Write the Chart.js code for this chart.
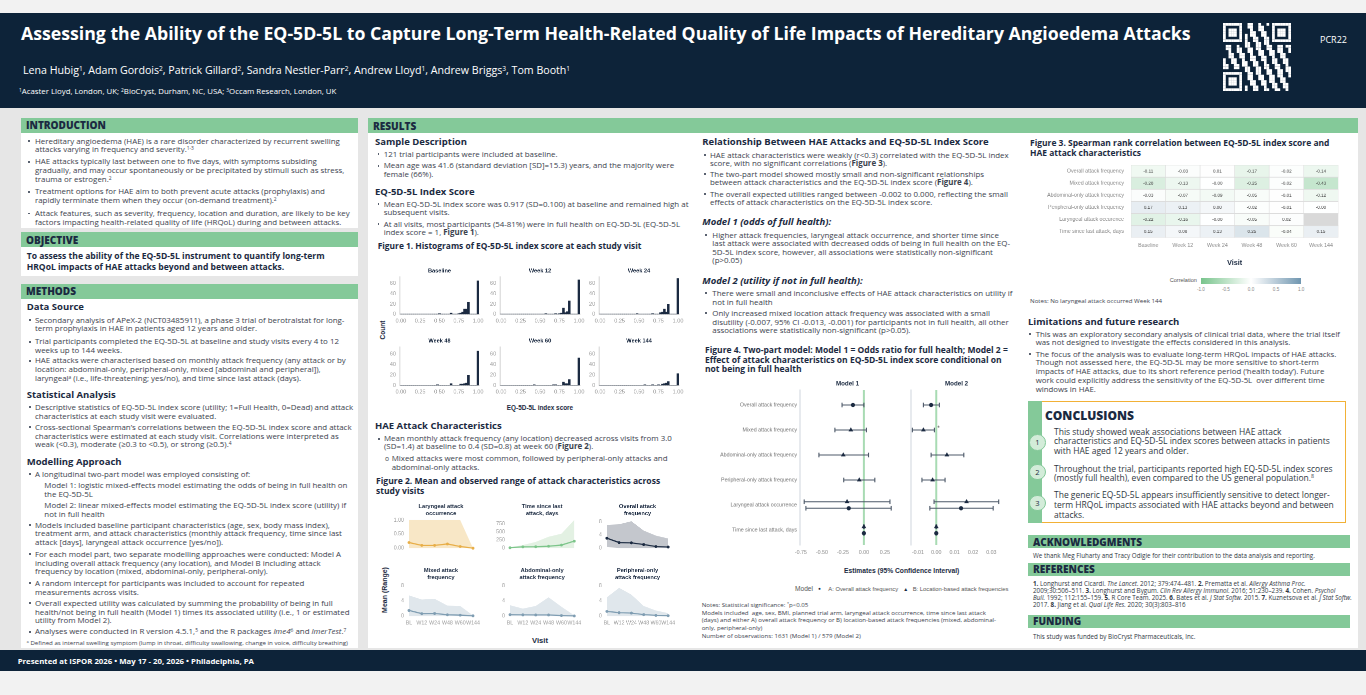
<!DOCTYPE html>
<html lang="en"><head><meta charset="utf-8"><title>EQ-5D-5L and HAE attacks poster</title>
<script src="https://cdn.jsdelivr.net/npm/chart.js@4.4.1/dist/chart.umd.min.js"></script>
<style>
html,body{margin:0;padding:0}
body{position:relative;width:1366px;height:695px;overflow:hidden;background:#e6e6e6;font-family:'Open Sans','Noto Sans',sans-serif;color:#3b424d}
.r{position:absolute}
.t{position:absolute;white-space:nowrap}
.b::before{content:'';position:absolute;left:0;top:calc(var(--lh) / 2 - 0.8px);width:1.7px;height:1.7px;background:#5a6270}
.o::before{content:'o';position:absolute;left:0;top:0;font-size:85%}
sup{font-size:62%;line-height:0;vertical-align:0.5em}
[data-g=title]{font-weight:700;color:#fff;font-size:19px}
[data-g=auth]{color:#fff;font-size:9px}
[data-g=aff]{color:#fff;font-size:6.5px}
[data-g=pcr]{color:#fff;font-size:9px}
[data-g=bar]{font-weight:800;color:#1b2a41;font-size:9.5px}
[data-g=sub]{font-weight:700;color:#1b2a41;font-size:8.8px}
[data-g=ital]{font-weight:700;font-style:italic;color:#1b2a41;font-size:9.3px}
[data-g=body],[data-g=bodyR]{font-size:6.9px}
[data-g=obj]{font-weight:700;color:#1b2a41;font-size:7.6px}
[data-g^=cap]{font-weight:700;color:#1b2a41;font-size:8px}
[data-g=fn]{font-size:5.4px}
[data-g=foot]{font-weight:700;color:#fff;font-size:8.5px}
[data-g=note4],[data-g=note3]{font-size:5.4px}
[data-g=concH]{font-weight:800;color:#1b2a41;font-size:11px}
[data-g=conc]{font-size:7.6px;color:#2f3742}
[data-g=ack],[data-g=ref]{font-size:5.3px;color:#2f3742}
[data-g=ax]{font-family:'Liberation Sans',Arial,sans-serif;font-weight:700;color:#1b2a41}
[data-g=leg]{font-family:'Liberation Sans',Arial,sans-serif;color:#555;font-size:5.2px}
.num{position:absolute;width:14.6px;height:14.6px;border-radius:50%;background:#d3ecd9;border:1.2px solid #84c999;color:#1b2a41;font-size:7.5px;line-height:14.6px;text-align:center}
</style>
</head>
<body>
<script>
// ================= DATA =================
// Figure 1: histogram of EQ-5D-5L index score, [bin centre, count]
const histVisits = ['Baseline','Week 12','Week 24','Week 48','Week 60','Week 144'];
const binWidth = 0.025;
const histBaseline = [[0.500,1],[0.650,2],[0.750,1],[0.775,2],[0.800,4],[0.825,10],[0.850,10],[0.875,23],[1.000,65]];
const histWeek12   = [[0.575,1],[0.700,1],[0.750,1],[0.775,2],[0.800,12],[0.825,3],[0.850,5],[0.875,26],[1.000,67]];
const histWeek24   = [[0.475,1],[0.675,1],[0.775,3],[0.800,4],[0.825,10],[0.850,4],[0.875,19],[1.000,70]];
const histWeek48   = [[0.475,1],[0.650,3],[0.775,2],[0.800,2],[0.825,3],[0.850,4],[0.875,19],[1.000,65]];
const histWeek60   = [[0.425,1],[0.675,1],[0.700,1],[0.800,6],[0.825,3],[0.850,3],[0.875,11],[1.000,52]];
const histWeek144  = [[0.575,1],[0.675,1],[0.750,1],[0.800,2],[0.825,3],[0.850,4],[0.875,7],[1.000,22]];
const histYTicks = [0,20,40,60];

// Figure 2: mean and observed range by visit
const visitsShort = ['BL','W12','W24','W48','W60','W144'];
const larMean = [0.20,0.10,0.10,0.15,0.06,0.00];
const larMin  = [0,0,0,0,0,0];
const larMax  = [1,1,1,1,1,0];
const timeMean = [15,40,45,60,95,215];
const timeMin  = [0,0,0,0,0,0];
const timeMax  = [25,95,190,350,440,860];
const overallMean = [3.0,1.7,1.6,1.1,0.5,0.35];
const overallMin  = [0.4,0,0,0,0,0];
const overallMax  = [7.0,7.2,8.1,5.3,3.8,2.9];
const mixedMean = [1.5,0.65,0.7,0.35,0.25,0.08];
const mixedMin  = [0,0,0,0,0,0];
const mixedMax  = [5.5,4.4,4.6,2.8,2.7,0.2];
const abdMean = [0.38,0.33,0.3,0.3,0.15,0.05];
const abdMin  = [0,0,0,0,0,0];
const abdMax  = [2.9,2.0,2.7,5.0,2.5,0.2];
const perMean = [1.25,0.9,0.8,0.4,0.2,0.12];
const perMin  = [0,0,0,0,0,0];
const perMax  = [5.0,7.5,5.7,2.7,1.5,0.8];

// Figure 3: Spearman correlations (null = not estimable)
const corrRows = ['Overall attack frequency','Mixed attack frequency','Abdominal-only attack frequency','Peripheral-only attack frequency','Laryngeal attack occurence','Time since last attack, days'];
const corrVisits = ['Baseline','Week 12','Week 24','Week 48','Week 60','Week 144'];
const corrOverall    = [-0.11,-0.03, 0.01,-0.17,-0.02,-0.14];
const corrMixed      = [-0.28,-0.13,-0.004,-0.25,-0.02,-0.43];
const corrAbdominal  = [-0.03,-0.07,-0.09,-0.05,-0.01,-0.12];
const corrPeripheral = [ 0.17, 0.13, 0.08,-0.02,-0.01,-0.004];
const corrLaryngeal  = [-0.22,-0.16,-0.004,-0.05, 0.02, null];
const corrTime       = [ 0.15, 0.08, 0.13, 0.25,-0.04, 0.15];
const colorbarTicks = [-1.0,-0.5,0.0,0.5,1.0];

// Figure 4: two-part model estimates (A = overall frequency model, B = location-based model)
const forestRows = ['Overall attack frequency','Mixed attack frequency','Abdominal-only attack frequency','Peripheral-only attack frequency','Laryngeal attack occurrence','Time since last attack, days'];
const m1EstA = [-0.13, null, null, null, -0.18, 0.000];
const m1LoA  = [-0.26, null, null, null, -0.69, -0.004];
const m1HiA  = [ 0.00, null, null, null, 0.325, 0.004];
const m1EstB = [null, -0.155, -0.245, -0.055, -0.20, 0.000];
const m1LoB  = [null, -0.345, -0.535, -0.24, -0.71, -0.004];
const m1HiB  = [null, 0.03, 0.055, 0.13, 0.31, 0.004];
const m1SigB = ['', '', '', '', '', ''];
const m2EstA = [-0.0028, null, null, null, 0.0135, 0.0000];
const m2LoA  = [-0.0070, null, null, null, -0.0035, -0.0002];
const m2HiA  = [ 0.0017, null, null, null, 0.0310, 0.0002];
const m2EstB = [null, -0.0070, 0.0058, -0.0020, 0.0165, 0.0000];
const m2LoB  = [null, -0.0130, -0.0028, -0.0078, -0.0012, -0.0002];
const m2HiB  = [null, -0.0010, 0.0150, 0.0048, 0.0340, 0.0002];
const m2SigB = ['', '*', '', '', '', ''];

// ================= LAYOUT HELPERS =================
const GREEN = '#84c999', NAVY = '#1b2a41';
function rect(l,t,w,h,bg,extra){const d=document.createElement('div');d.className='r';d.style.cssText+=`left:${l}px;top:${t}px;width:${w}px;height:${h}px;background:${bg};`+(extra||'');document.body.appendChild(d);return d;}
function T(x,yc,lh,g,html,o){o=o||{};const d=document.createElement('div');d.className='t '+(o.cls||'');d.dataset.g=g;
  d.style.left=x+'px';d.style.top=(yc-lh/2)+'px';d.style.lineHeight=lh+'px';
  if(o.ind){d.style.paddingLeft=o.ind+'px';d.classList.add(o.cls||'b');d.style.setProperty('--lh',lh+'px');}
  if(o.size)d.style.fontSize=o.size+'px';
  if(o.center)d.style.transform='translateX(-50%)';
  if(o.rot){d.style.transform='translate(-50%,-50%) rotate(-90deg)';d.style.top=yc+'px';}
  if(o.color)d.style.color=o.color;
  d.innerHTML=html;document.body.appendChild(d);return d;}
function B(xd,xt,yc,lh,g,html,cls){return T(xd,yc,lh,g,html,{ind:xt-xd,cls:cls});}

// background strips
rect(0,0,1366,13,'#f2f2f2');
rect(0,13,1366,95,'#0d2339');
rect(0,650,1366,21,'#0d2339');
rect(0,671,1366,24,'#f2f2f2');
// white panels
rect(21,118,337,110,'#fff');
rect(21,232,337,44,'#fff');
rect(21,283.5,337,364.5,'#fff');
rect(368,118,990,530,'#fff');
// green section bars
rect(21,118,337,14.5,GREEN);
rect(21,232,337,15,GREEN);
rect(21,283.5,337,15,GREEN);
rect(368,118,990,15,GREEN);
rect(1028,535,322,13.3,GREEN);
rect(1028,563,322,12.7,GREEN);
rect(1028,615,322,12.7,GREEN);

// header
T(21,33,24,'title','<span data-fw="1170">Assessing the Ability of the EQ-5D-5L to Capture Long-Term Health-Related Quality of Life Impacts of Hereditary Angioedema Attacks</span>');
T(23,70,12,'auth','<span data-fw="548">Lena Hubig<sup>1</sup>, Adam Gordois<sup>2</sup>, Patrick Gillard<sup>2</sup>, Sandra Nestler-Parr<sup>2</sup>, Andrew Lloyd<sup>1</sup>, Andrew Briggs<sup>3</sup>, Tom Booth<sup>1</sup></span>');
T(19,91,9,'aff','<span data-fw="318"><sup>1</sup>Acaster Lloyd, London, UK; <sup>2</sup>BioCryst, Durham, NC, USA; <sup>3</sup>Occam Research, London, UK</span>');
T(1320,40,12,'pcr','PCR22');

// left column
T(26,125.3,12,'bar','<span data-fw="80">INTRODUCTION</span>');
B(28,35,141,8.6,'body','<span data-fw="305">Hereditary angioedema (HAE) is a rare disorder characterized by recurrent swelling</span><br>attacks varying in frequency and severity.<sup>1-3</sup>');
B(28,35,161.7,8.6,'body','HAE attacks typically last between one to five days, with symptoms subsiding<br>gradually, and may occur spontaneously or be precipitated by stimuli such as stress,<br>trauma or estrogen.<sup>2</sup>');
B(28,35,191.7,8.6,'body','Treatment options for HAE aim to both prevent acute attacks (prophylaxis) and<br>rapidly terminate them when they occur (on-demand treatment).<sup>2</sup>');
B(28,35,213.3,8.6,'body','Attack features, such as severity, frequency, location and duration, are likely to be key<br>factors impacting health-related quality of life (HRQoL) during and between attacks.');
T(26,239.7,12,'bar','OBJECTIVE');
T(26.7,256.7,11.6,'obj','<span data-fw="298">To assess the ability of the EQ-5D-5L instrument to quantify long-term</span><br>HRQoL impacts of HAE attacks beyond and between attacks.');
T(26,291,12,'bar','METHODS');
T(26.7,306.7,11,'sub','Data Source');
B(29,35,320,8.6,'body','Secondary analysis of APeX-2 (NCT03485911), a phase 3 trial of berotralstat for long-<br>term prophylaxis in HAE in patients aged 12 years and older.');
B(29,35,341.7,8.6,'body','Trial participants completed the EQ-5D-5L at baseline and study visits every 4 to 12<br>weeks up to 144 weeks.');
B(29,35,360.7,8.8,'body','HAE attacks were characterised based on monthly attack frequency (any attack or by<br>location: abdominal-only, peripheral-only, mixed [abdominal and peripheral]),<br>laryngeal<sup>a</sup> (i.e., life-threatening; yes/no), and time since last attack (days).');
T(26.7,394,11,'sub','Statistical Analysis');
B(29,35,407.3,8.4,'body','Descriptive statistics of EQ-5D-5L index score (utility; 1=Full Health, 0=Dead) and attack<br>characteristics at each study visit were evaluated.');
B(29,35,427.3,8.5,'body','Cross-sectional Spearman\u2019s correlations between the EQ-5D-5L index score and attack<br>characteristics were estimated at each study visit. Correlations were interpreted as<br>weak (&lt;0.3), moderate (\u22650.3 to &lt;0.5), or strong (\u22650.5).<sup>4</sup>');
T(26.7,461,11,'sub','Modelling Approach');
B(29,35,474,8.6,'body','A longitudinal two-part model was employed consisting of:');
T(44.3,485,9,'body','Model 1: logistic mixed-effects model estimating the odds of being in full health on<br>the EQ-5D-5L');
T(44.3,505,9,'body','Model 2: linear mixed-effects model estimating the EQ-5D-5L index score (utility) if<br>not in full health');
B(29,35,525,8.85,'body','Models included baseline participant characteristics (age, sex, body mass index),<br>treatment arm, and attack characteristics (monthly attack frequency, time since last<br>attack [days], laryngeal attack occurrence [yes/no]).');
B(29,35,554.3,8.7,'body','For each model part, two separate modelling approaches were conducted: Model A<br>including overall attack frequency (any location), and Model B including attack<br>frequency by location (mixed, abdominal-only, peripheral-only).');
B(29,35,583.3,8.4,'body','A random intercept for participants was included to account for repeated<br>measurements across visits.');
B(29,35,603.3,8.7,'body','Overall expected utility was calculated by summing the probability of being in full<br>health/not being in full health (Model 1) times its associated utility (i.e., 1 or estimated<br>utility from Model 2).');
B(29,35,631.7,8.6,'body','Analyses were conducted in R version 4.5.1,<sup>5</sup> and the R packages <i>lme4</i><sup>6</sup> and <i>lmerTest</i>.<sup>7</sup>');
T(26.7,642.7,7,'fn','<span data-fw="321.6"><sup>a</sup> Defined as internal swelling symptom (lump in throat, difficulty swallowing, change in voice, difficulty breathing)</span>');
T(17.7,661,12,'foot','<span data-fw="236.6">Presented at ISPOR 2026 \u2022 May 17 - 20, 2026 \u2022 Philadelphia, PA</span>');

// results – middle left
T(373,125.8,12,'bar','RESULTS');
T(375,141,11,'sub','<span data-fw="92">Sample Description</span>');
B(377.7,383.7,154.3,8.5,'body','121 trial participants were included at baseline.');
B(377.7,383.7,165.7,8.6,'body','Mean age was 41.6 (standard deviation [SD]=15.3) years, and the majority were<br>female (66%).');
T(375,191,11,'sub','EQ-5D-5L Index Score');
B(377.7,383.7,204.3,8,'body','Mean EQ-5D-5L index score was 0.917 (SD=0.100) at baseline and remained high at<br>subsequent visits.');
B(377.7,383.7,224,8.3,'body','At all visits, most participants (54-81%) were in full health on EQ-5D-5L (EQ-5D-5L<br>index score = 1, <b>Figure 1</b>).');
T(377.7,246,10,'cap1','<span data-fw="264">Figure 1. Histograms of EQ-5D-5L index score at each study visit</span>');
T(375,425.7,11,'sub','HAE Attack Characteristics');
B(378.3,384,439,7.9,'body','Mean monthly attack frequency (any location) decreased across visits from 3.0<br>(SD=1.4) at baseline to 0.4 (SD=0.8) at week 60 (<b>Figure 2</b>).');
B(385,391.7,458.3,9,'body','Mixed attacks were most common, followed by peripheral-only attacks and<br>abdominal-only attacks.','o');
T(376,481,10,'cap2','<span data-fw="284.7">Figure 2. Mean and observed range of attack characteristics across</span><br>study visits');

// results – middle right
T(702.3,141.7,11,'sub','Relationship Between HAE Attacks and EQ-5D-5L Index Score');
B(704,710,155,8.4,'body','HAE attack characteristics were weakly (r&lt;0.3) correlated with the EQ-5D-5L index<br>score, with no significant correlations (<b>Figure 3</b>).');
B(704,710,174,8.7,'body','The two-part model showed mostly small and non-significant relationships<br>between attack characteristics and the EQ-5D-5L index score (<b>Figure 4</b>).');
B(704,710,194,8.7,'body','The overall expected utilities ranged between -0.002 to 0.000, reflecting the small<br>effects of attack characteristics on the EQ-5D-5L index score.');
T(702.3,221.7,12,'ital','<span data-fw="129">Model 1 (odds of full health):</span>');
B(705,712.3,235,8.55,'body','Higher attack frequencies, laryngeal attack occurrence, and shorter time since<br>last attack were associated with decreased odds of being in full health on the EQ-<br>5D-5L index score, however, all associations were statistically non-significant<br>(p&gt;0.05)');
T(702.3,280.7,12,'ital','Model 2 (utility if not in full health):');
B(705,712.3,293.3,8.4,'body','There were small and inconclusive effects of HAE attack characteristics on utility if<br>not in full health');
B(705,712.3,313.3,8.7,'body','Only increased mixed location attack frequency was associated with a small<br>disutility (-0.007, 95% CI -0.013, -0.001) for participants not in full health, all other<br>associations were statistically non-significant (p&gt;0.05).');
T(705,350,9.35,'cap4','<span data-fw="303">Figure 4. Two-part model: Model 1 = Odds ratio for full health; Model 2 =</span><br>Effect of attack characteristics on EQ-5D-5L index score conditional on<br>not being in full health');
T(901.7,570.7,9,'ax','Estimates (95% Confidence Interval)',{size:6.7,center:true});
T(795,589.3,8,'leg','Model',{size:6.6});
T(818.3,589.3,8,'leg','\u25CF',{size:4.6,color:NAVY});
T(828.3,589.3,8,'leg','A: Overall attack frequency');
T(903.3,589.3,8,'leg','\u25B2',{size:5,color:NAVY});
T(912.7,589.3,8,'leg','<span data-fw="95.6">B: Location-based attack frequencies</span>');
T(701.7,605,7.6,'note4','Notes: Statistical significance: <sup>*</sup>p&lt;0.05<br><span data-fw="284">Models included&nbsp; age, sex, BMI, planned trial arm, laryngeal attack occurrence, time since last attack</span><br>(days) and either A) overall attack frequency or B) location-based attack frequencies (mixed, abdominal-<br>only, peripheral-only)<br>Number of observations: 1631 (Model 1) / 579 (Model 2)');

// right column
T(1030,142.9,9.4,'cap3','<span data-fw="300">Figure 3. Spearman rank correlation between EQ-5D-5L index score and</span><br>HAE attack characteristics');
T(1030,300.7,7,'note3','<span data-fw="132">Notes: No laryngeal attack occurred Week 144</span>');
T(1028,321,11,'sub','Limitations and future research');
B(1029,1035.7,334,8.7,'bodyR','<span data-fw="304">This was an exploratory secondary analysis of clinical trial data, where the trial itself</span><br>was not designed to investigate the effects considered in this analysis.');
B(1029,1035.7,354,8.83,'bodyR','The focus of the analysis was to evaluate long-term HRQoL impacts of HAE attacks.<br>Though not assessed here, the EQ-5D-5L may be more sensitive to short-term<br>impacts of HAE attacks, due to its short reference period (\u2018health today\u2019). Future<br>work could explicitly address the sensitivity of the EQ-5D-5L&nbsp; over different time<br>windows in HAE.');
// conclusions box
rect(1028,400.7,14,122.6,GREEN);
rect(1042,400.7,302.5,120,'#fff','border:1.3px solid #f2b136;border-left:none;');
T(1045,416,14,'concH','<span data-fw="89">CONCLUSIONS</span>');
T(1054,431.7,9.3,'conc','This study showed weak associations between HAE attack<br><span data-fw="276">characteristics and EQ-5D-5L index scores between attacks in patients</span><br>with HAE aged 12 years and older.');
T(1054,468.3,9.4,'conc','Throughout the trial, participants reported high EQ-5D-5L index scores<br>(mostly full health), even compared to the US general population.<sup>8</sup>');
T(1054,495,10,'conc','The generic EQ-5D-5L appears insufficiently sensitive to detect longer-<br>term HRQoL impacts associated with HAE attacks beyond and between<br>attacks.');
[[442.7,'1'],[472.3,'2'],[503.3,'3']].forEach(([y,n])=>{const d=document.createElement('div');d.className='num';d.style.left=(1037.7-8.5)+'px';d.style.top=(y-8.5)+'px';d.textContent=n;document.body.appendChild(d);});
// ack / refs / funding
T(1033,541.7,12,'bar','ACKNOWLEDGMENTS');
T(1033,555,7,'ack','<span data-fw="282">We thank Meg Fluharty and Tracy Odigie for their contribution to the data analysis and reporting.</span>');
T(1033,569.3,12,'bar','REFERENCES');
T(1033,584.3,6.9,'ref','<span data-fw="273"><b>1.</b> Longhurst and Cicardi. <i>The Lancet</i>. 2012; 379:474\u2013481. <b>2.</b> Prematta et al. <i>Allergy Asthma Proc.</i></span><br>2009;30:506\u2013511. <b>3.</b> Longhurst and Bygum. <i>Clin Rev Allergy Immunol.</i> 2016; 51:230\u2013239. <b>4.</b> Cohen. <i>Psychol</i><br><i>Bull.</i> 1992; 112:155\u2013159. <b>5.</b> R Core Team. 2025. <b>6.</b> Bates et al. <i>J Stat Softw.</i> 2015. <b>7.</b> Kuznetsova et al. <i>J Stat Softw.</i><br>2017. <b>8.</b> Jiang et al. <i>Qual Life Res.</i> 2020; 30(3):803\u2013816');
T(1033,621.3,12,'bar','FUNDING');
T(1033,636.7,7,'ack','This study was funded by BioCryst Pharmaceuticals, Inc.');

// figure-level axis labels
T(383.3,330,8,'ax','Count',{size:6.6,rot:true});
T(540,407.5,8,'ax','EQ-5D-5L index score',{size:6.4,center:true});
T(385,590,8,'ax','Mean (Range)',{size:7,rot:true});
T(540,640,9,'ax','Visit',{size:7.6,center:true});
// colour bar legend of Figure 3
T(1197,280.5,7,'leg','Correlation',{size:5.6}).style.transform='translateX(-100%)';
rect(1200.7,277.7,100.3,6.6,'linear-gradient(to right, rgb(120,196,140), #ffffff 50%, rgb(112,150,176))');
colorbarTicks.forEach(v=>{T(1251+v*50.15,290,6,'leg',v.toFixed(1),{size:4.6,center:true,color:'#888'});});

// fit text widths to reference
document.querySelectorAll('[data-fw]').forEach(s=>{const host=s.closest('[data-g]');const g=host.dataset.g;
  const fs=parseFloat(getComputedStyle(host).fontSize);const w=s.getBoundingClientRect().width;
  if(!w)return;const nfs=fs*(+s.dataset.fw)/w;
  document.querySelectorAll(`[data-g="${g}"]`).forEach(e=>{if(!e.style.fontSize||e===host||g!=='leg')e.style.fontSize=nfs+'px';});});

// QR decoration (drawn on top of the header band)
(function(){const c=document.createElement('canvas');c.className='r';c.style.left='1223px';c.style.top='23px';document.body.appendChild(c);
  const N=25,S=2.7;c.width=N*S*2;c.height=N*S*2;c.style.width=N*S+'px';c.style.height=N*S+'px';
  const x=c.getContext('2d');x.scale(2,2);x.fillStyle='#fff';
  const inFinder=(i,j)=>{for(const [a,b] of [[0,0],[18,0],[0,18]]){if(i>=a-1&&i<=a+7&&j>=b-1&&j<=b+7)return [a,b];}return null;};
  for(let i=0;i<N;i++)for(let j=0;j<N;j++){const f=inFinder(i,j);let on;
    if(f){const di=i-f[0],dj=j-f[1];if(di<0||dj<0||di>6||dj>6)on=false;else{const m=Math.max(Math.abs(di-3),Math.abs(dj-3));on=(m===3||m<=1);}}
    else{const h=Math.imul(i*31+j*97+13,2654435761)>>>0;on=((h>>>15)&1)===1;}
    if(on)x.fillRect(i*S,j*S,S+0.05,S+0.05);}
})();

// ================= CHARTS =================
Chart.defaults.font.family="'Liberation Sans', Arial, sans-serif";
Chart.defaults.color='#8a8a8a';
Chart.defaults.animation=false;
Chart.defaults.events=[];
Chart.defaults.plugins.legend.display=false;
Chart.defaults.plugins.tooltip.enabled=false;
function zp(s){s.paddingLeft=0;s.paddingRight=0;s.paddingTop=0;s.paddingBottom=0;}
function fixW(w){return s=>{s.width=w;zp(s);};}
function fixH(h){return s=>{s.height=h;zp(s);};}
function mk(plot,m,cfg){
  const d=document.createElement('div');d.className='r';
  d.style.left=(plot.l-m.l)+'px';d.style.top=(plot.t-m.t)+'px';
  d.style.width=(plot.w+m.l+m.r)+'px';d.style.height=(plot.h+m.t+m.b)+'px';
  const c=document.createElement('canvas');d.appendChild(c);document.body.appendChild(d);
  const xs=cfg.options.scales.x,ys=cfg.options.scales.y;
  ys.afterFit=fixW(m.l);
  const xHidden=xs.display===false;
  if(!xHidden)xs.afterFit=fixH(m.b);
  Object.assign(cfg.options,{responsive:true,maintainAspectRatio:false,animation:false,devicePixelRatio:2,
    layout:{padding:{left:0,top:m.t,right:m.r,bottom:xHidden?m.b:0}}});
  return new Chart(c,cfg);
}
function titleP(lines,size,gap,lh){return {id:'panelTitle',afterDraw(chart){const {ctx,chartArea:ca}=chart;ctx.save();
  ctx.font=`bold ${size}px 'Liberation Sans', Arial, sans-serif`;ctx.fillStyle=NAVY;ctx.textAlign='center';ctx.textBaseline='middle';
  const cx=(ca.left+ca.right)/2,n=lines.length;lines.forEach((t,i)=>ctx.fillText(t,cx,ca.top-gap-(n-1-i)*lh));ctx.restore();}};}
const noGrid={display:false,drawTicks:false};

// ---- Figure 1 histograms ----
const binLabels=Array.from({length:Math.round(1/binWidth)+1},(_,i)=>(i*binWidth).toFixed(2));
const histCounts=[histBaseline,histWeek12,histWeek24,histWeek48,histWeek60,histWeek144];
const HX=[399.7,500.3,599.3],HY=[276.7,346.7],HH=[37.6,38.3];
histCounts.forEach((pairs,i)=>{const col=i%3,row=Math.floor(i/3);
  const counts=binLabels.map(()=>0);pairs.forEach(([c,n])=>{counts[Math.round(c/binWidth)]=n;});
  mk({l:HX[col],t:HY[row],w:79.5,h:HH[row]},{l:20,t:12,r:7,b:12},{
    type:'bar',
    data:{labels:binLabels,datasets:[{data:counts,backgroundColor:NAVY,barPercentage:1,categoryPercentage:1,borderWidth:0}]},
    plugins:[titleP([histVisits[i]],5.6,6,6.6)],
    options:{scales:{
      x:{grid:noGrid,border:{display:true,color:'#d6d6d6'},ticks:{autoSkip:false,maxRotation:0,minRotation:0,padding:3.4,font:{size:5.5},color:'#9a9a9a',callback:(v,idx)=>idx%10===0?binLabels[idx]:''}},
      y:{min:0,max:73,grid:noGrid,border:{display:true,color:'#d6d6d6'},afterBuildTicks:s=>{s.ticks=histYTicks.map(v=>({value:v}));},ticks:{padding:4,font:{size:5.5},color:'#9a9a9a'}}
    }}
  });
});

// ---- Figure 2 mean and range panels ----
const rangePanels=[
  {title:['Laryngeal attack','occurrence'],mean:larMean,min:larMin,max:larMax,ymax:1.03,step:0.25,dec:2,fill:'#f8e7c6',line:'#e8ae47'},
  {title:['Time since last','attack, days'],mean:timeMean,min:timeMin,max:timeMax,ymax:885,step:250,dec:0,fill:'#e3f1e3',line:'#7cc58a'},
  {title:['Overall attack','frequency'],mean:overallMean,min:overallMin,max:overallMax,ymax:8.72,step:2,dec:0,fill:'#c4c7cd',line:NAVY},
  {title:['Mixed attack','frequency'],mean:mixedMean,min:mixedMin,max:mixedMax,ymax:8.45,step:2,dec:0,fill:'#e0e7ec',line:'#7f9db2'},
  {title:['Abdominal-only','attack frequency'],mean:abdMean,min:abdMin,max:abdMax,ymax:8.45,step:2,dec:0,fill:'#e0e7ec',line:'#7f9db2'},
  {title:['Peripheral-only','attack frequency'],mean:perMean,min:perMin,max:perMax,ymax:8.45,step:2,dec:0,fill:'#e0e7ec',line:'#7f9db2'}
];
const FX=[409.3,510,606.7],FW=[64,64.3,61.6],FY=[519,584],FH=[32.7,31.7];
rangePanels.forEach((p,i)=>{const col=i%3,row=Math.floor(i/3);
  mk({l:FX[col],t:FY[row],w:FW[col],h:FH[row]},{l:24,t:20,r:9,b:row?12:0},{
    type:'line',
    data:{labels:visitsShort,datasets:[
      {data:p.min,borderColor:'rgba(0,0,0,0)',pointRadius:0,fill:false,order:2},
      {data:p.max,borderColor:'rgba(0,0,0,0)',pointRadius:0,fill:'-1',backgroundColor:p.fill,order:2},
      {data:p.mean,borderColor:p.line,borderWidth:1.2,pointRadius:1.4,pointBackgroundColor:p.line,pointBorderWidth:0,fill:false,clip:4,order:0}
    ]},
    plugins:[titleP(p.title,5.7,row?6.7:5.7,6.7)],
    options:{plugins:{filler:{propagate:false}},scales:{
      x:{display:row===1,offset:false,grid:noGrid,border:{display:false},ticks:{autoSkip:false,maxRotation:0,minRotation:0,padding:3.8,font:{size:5.3},color:'#9a9a9a'}},
      y:{min:0,max:p.ymax,grid:noGrid,border:{display:false},ticks:{stepSize:p.step,includeBounds:false,padding:5,font:{size:5.3},color:'#9a9a9a',callback:v=>v.toFixed(p.dec)}}
    }}
  });
});

// ---- Figure 3 heatmap ----
const corrValues=[corrOverall,corrMixed,corrAbdominal,corrPeripheral,corrLaryngeal,corrTime];
function corrColor(v){if(v===null)return '#d9d9d9';const t=Math.min(1,Math.abs(v));const e=v<0?[120,196,140]:[112,150,176];
  return 'rgb('+e.map(c=>Math.round(255+(c-255)*t)).join(',')+')';}
const cellLabels={id:'cellLabels',afterDatasetsDraw(chart){const ctx=chart.ctx;ctx.save();ctx.font="4.5px 'Liberation Sans', Arial, sans-serif";
  ctx.fillStyle='#444';ctx.textAlign='center';ctx.textBaseline='middle';
  chart.data.datasets.forEach((ds,i)=>{chart.getDatasetMeta(i).data.forEach((el,j)=>{const v=corrValues[i][j];if(v===null)return;ctx.fillText(v.toFixed(2),el.x,(el.y+el.base)/2);});});ctx.restore();}};
mk({l:1131,t:165,w:207.3,h:72.3},{l:101,t:4,r:5,b:29.6},{
  type:'bar',
  data:{labels:corrVisits,datasets:corrValues.map((vals,i)=>({data:vals.map(()=>[i,i+1]),backgroundColor:vals.map(corrColor),borderColor:'#dcdcdc',borderWidth:0.6,borderSkipped:false,grouped:false,barPercentage:1,categoryPercentage:1}))},
  plugins:[cellLabels],
  options:{scales:{
    x:{grid:noGrid,border:{display:false},ticks:{autoSkip:false,maxRotation:0,padding:4.5,font:{size:5.3},color:'#8a8a8a'},title:{display:true,text:'Visit',font:{size:7.2,weight:'bold'},color:NAVY,padding:{top:0,bottom:0}}},
    y:{min:0,max:6,reverse:true,grid:noGrid,border:{display:false},afterBuildTicks:s=>{s.ticks=corrRows.map((_,i)=>({value:i+0.5}));},ticks:{padding:7,font:{size:5.3},color:'#858585',callback:v=>corrRows[Math.floor(v)]}}
  }}
});

// ---- Figure 4 forest plots ----
const DODGE=0.13,CI='#4c5868';
function forest(plot,m,est,lo,hi,estB,loB,hiB,sigB,xmin,xmax,step,showLabels,title){
  const ds=[{data:[{x:0,y:0.4},{x:0,y:6.6}],showLine:true,borderColor:'#a8dbb3',borderWidth:2,pointRadius:0,order:10}];
  const ptsA=[],ptsB=[],marks=[];
  const ci=(a,b,y)=>({data:[{x:a,y},{x:b,y}],showLine:true,borderColor:CI,borderWidth:1.1,pointStyle:'line',pointRotation:90,pointRadius:2.3,pointBorderColor:CI,pointBackgroundColor:CI,pointBorderWidth:1.1,order:5,clip:false});
  forestRows.forEach((r,i)=>{const both=est[i]!==null&&estB[i]!==null;
    if(est[i]!==null){const y=i+1+(both?DODGE:0);ds.push(ci(lo[i],hi[i],y));ptsA.push({x:est[i],y});}
    if(estB[i]!==null){const y=i+1-(both?DODGE:0);ds.push(ci(loB[i],hiB[i],y));ptsB.push({x:estB[i],y});if(sigB[i])marks.push({x:hiB[i],y,t:sigB[i]});}
  });
  ds.push({data:ptsA,pointStyle:'circle',pointRadius:2.1,pointBackgroundColor:NAVY,pointBorderColor:NAVY,pointBorderWidth:0,order:1,clip:false});
  ds.push({data:ptsB,pointStyle:'triangle',pointRadius:2.7,pointBackgroundColor:NAVY,pointBorderColor:NAVY,pointBorderWidth:0,order:1,clip:false});
  const sig={id:'sig',afterDatasetsDraw(chart){const {ctx,scales}=chart;ctx.save();ctx.font="6px 'Liberation Sans', Arial, sans-serif";ctx.fillStyle='#444';ctx.textAlign='left';ctx.textBaseline='middle';
    marks.forEach(mk=>ctx.fillText(mk.t,scales.x.getPixelForValue(mk.x)+3,scales.y.getPixelForValue(mk.y)-1.5));ctx.restore();}};
  mk(plot,m,{type:'scatter',data:{datasets:ds},plugins:[sig,titleP([title],6.2,6,7)],
    options:{scales:{
      x:{type:'linear',min:xmin,max:xmax,grid:noGrid,border:{display:false},ticks:{stepSize:step,includeBounds:false,padding:4.2,font:{size:5.3},color:'#8a8a8a',callback:v=>v.toFixed(2)}},
      y:{type:'linear',min:0.4,max:6.6,reverse:true,grid:noGrid,border:{display:true,color:'#cfd5dc'},afterBuildTicks:s=>{s.ticks=forestRows.map((_,i)=>({value:i+1}));},ticks:{display:showLabels,padding:3,font:{size:5.3},color:'#707070',callback:v=>forestRows[Math.round(v)-1]}}
    }}});
}
forest({l:800,t:390,w:95,h:155},{l:85,t:14,r:8,b:12},m1EstA,m1LoA,m1HiA,m1EstB,m1LoB,m1HiB,m1SigB,-0.76,0.37,0.25,true,'Model 1');
forest({l:908,t:390,w:94,h:155},{l:2,t:14,r:8,b:12},m2EstA,m2LoA,m2HiA,m2EstB,m2LoB,m2HiB,m2SigB,-0.0137,0.0358,0.01,false,'Model 2');
</script>
</body></html>
